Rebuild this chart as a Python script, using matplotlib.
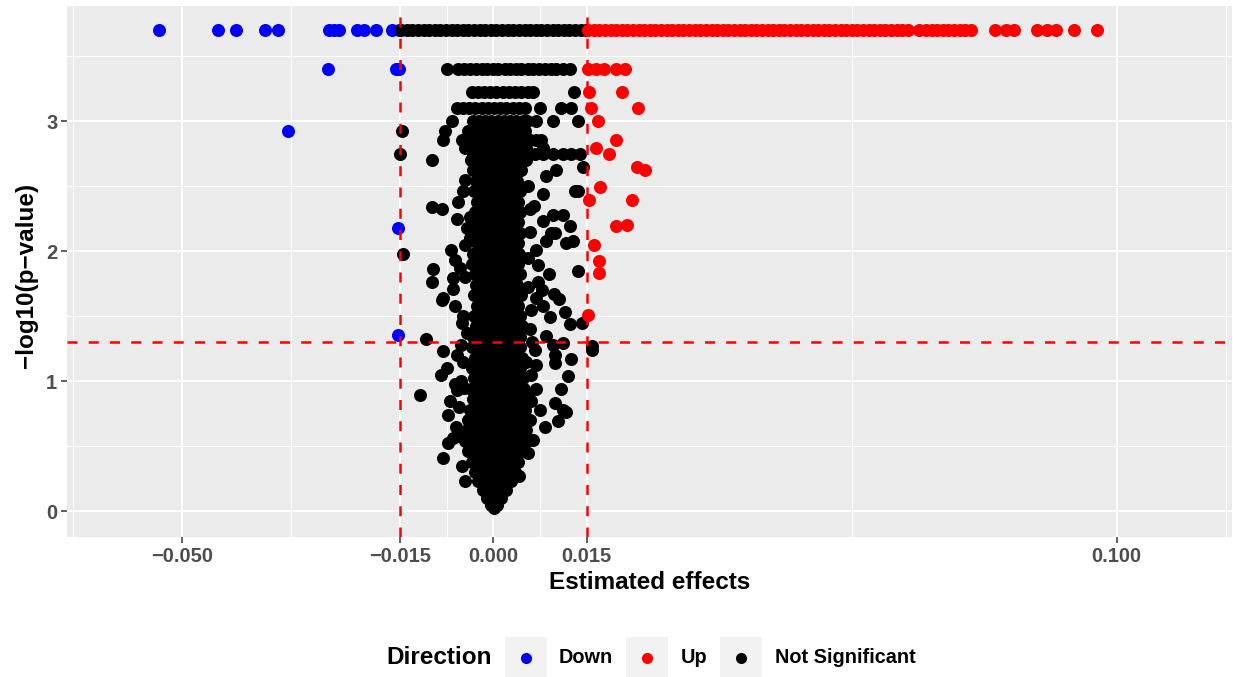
import numpy as np
import matplotlib
matplotlib.use("Agg")
import matplotlib.pyplot as plt
from matplotlib.lines import Line2D
from matplotlib.patches import Rectangle
from matplotlib.ticker import FixedLocator

plt.rcParams['font.family'] = ['Liberation Sans', 'DejaVu Sans']

# cut-offs used for the classification
FC_CUT = 0.015
P_CUT = 0.05

# x breaks shown on the axis
x_breaks = [-0.050, -0.015, 0.000, 0.015, 0.100]
x_labels = ['\u22120.050', '\u22120.015', '0.000', '0.015', '0.100']
y_breaks = [0, 1, 2, 3]

# ---- Down (blue) ----
down_x = [-0.0536, -0.0441, -0.0413, -0.0366, -0.0346, -0.0263, -0.0255, -0.0247,
          -0.0218, -0.0207, -0.0189, -0.0163, -0.0152,
          -0.0265, -0.0156, -0.0151,
          -0.0330, -0.0153, -0.0153]
down_y = [3.699] * 13 + [3.398] * 3 + [2.921, 2.175, 1.354]

# ---- Up (red) ----
up_top_x = [0.0152, 0.0161, 0.0170, 0.0179, 0.0188, 0.0197, 0.0206, 0.0215, 0.0224,
            0.0233, 0.0242, 0.0251, 0.0260, 0.0269, 0.0278, 0.0287, 0.0296, 0.0305,
            0.0314, 0.0323, 0.0332, 0.0341, 0.0350, 0.0359, 0.0368, 0.0377, 0.0386,
            0.0395, 0.0404, 0.0413, 0.0422, 0.0431, 0.0440, 0.0449, 0.0458, 0.0467,
            0.0476, 0.0485, 0.0494, 0.0503, 0.0512, 0.0521, 0.0530, 0.0539, 0.0548,
            0.0557, 0.0566, 0.0575, 0.0584, 0.0593, 0.0602, 0.0611, 0.0620, 0.0629,
            0.0638, 0.0647, 0.0656, 0.0665, 0.0683, 0.0694, 0.0703, 0.0712, 0.0721,
            0.0730, 0.0739, 0.0748, 0.0757, 0.0766,
            0.0804, 0.0822, 0.0836, 0.0872, 0.0889, 0.0902, 0.0932, 0.0968]
up_top_y = 3.699
up_x = [0.0152, 0.0164, 0.0178, 0.0196, 0.0211, 0.0153, 0.0206, 0.0156, 0.0232,
        0.0168, 0.0197, 0.0164, 0.0185, 0.0230, 0.0243, 0.0171, 0.0154, 0.0222,
        0.0197, 0.0214, 0.0161, 0.0169, 0.0170, 0.0152]
up_y = [3.398] * 5 + [3.222, 3.222, 3.097, 3.097, 3.0, 2.854, 2.796, 2.745, 2.65,
                      2.62, 2.49, 2.39, 2.39, 2.19, 2.20, 2.05, 1.925, 1.83, 1.51]

# ---- Not significant (black), rows of equal -log10(p) ----
ns_row_y = [3.699, 3.398, 3.222, 3.097, 3.0, 2.921, 2.854, 2.796, 2.745, 2.699,
            2.62, 2.54, 2.46, 2.38, 2.30, 2.22, 2.14, 2.06, 1.98, 1.90,
            1.82, 1.74, 1.66, 1.58, 1.50, 1.42, 1.34, 1.26, 1.18, 1.10,
            1.02, 0.94, 0.86, 0.78, 0.70, 0.62, 0.54, 0.46, 0.38, 0.30,
            0.23, 0.16, 0.10, 0.05, 0.02]
ns_row_x = [
    [-0.0148, -0.0139, -0.0130, -0.0121, -0.0112, -0.0103, -0.0094, -0.0085, -0.0076,
     -0.0067, -0.0058, -0.0049, -0.0040, -0.0031, -0.0022, -0.0013, -0.0004, 0.0005,
     0.0014, 0.0023, 0.0032, 0.0041, 0.0050, 0.0059, 0.0068, 0.0077, 0.0086, 0.0095,
     0.0104, 0.0113, 0.0122, 0.0131, 0.0140, 0.0148],
    [-0.0075, -0.0056, -0.0047, -0.0038, -0.0028, -0.0019, -0.0010, -0.0001, 0.0008,
     0.0018, 0.0027, 0.0036, 0.0045, 0.0055, 0.0064, 0.0073, 0.0083, 0.0092, 0.0101,
     0.0112, 0.0123],
    [-0.0035, -0.0025, -0.0015, -0.0005, 0.0005, 0.0015, 0.0025, 0.0035, 0.0045,
     0.0055, 0.0064, 0.0129],
    [-0.0059, -0.0049, -0.0039, -0.0029, -0.0019, -0.0009, 0.0001, 0.0011, 0.0021,
     0.0031, 0.0041, 0.0051, 0.0075, 0.0109, 0.0125],
    [-0.0067, -0.0033, -0.0023, -0.0013, -0.0003, 0.0007, 0.0017, 0.0027, 0.0037,
     0.0047, 0.0054, 0.0069, 0.0096, 0.0136],
    [-0.0147, -0.0078, -0.0040, -0.0030, -0.0020, -0.0010, 0.0000, 0.0010, 0.0020,
     0.0030, 0.0040, 0.0050],
    [-0.0081, -0.0051, -0.0040, -0.0029, -0.0018, -0.0007, 0.0004, 0.0015, 0.0026,
     0.0037, 0.0048, 0.0059, 0.0069, 0.0077],
    [-0.0046, -0.0035, -0.0024, -0.0013, -0.0002, 0.0009, 0.0020, 0.0031, 0.0042,
     0.0053, 0.0080],
    [-0.0150, -0.0033, -0.0023, -0.0013, -0.0003, 0.0007, 0.0017, 0.0027, 0.0037,
     0.0047, 0.0057, 0.0067, 0.0080, 0.0096, 0.0112, 0.0125, 0.0139],
    [-0.0098, -0.0036, -0.0025, -0.0014, -0.0003, 0.0008, 0.0019, 0.0030, 0.0041, 0.0052],
    [-0.0032, -0.0021, -0.0010, 0.0001, 0.0012, 0.0023, 0.0034, 0.0044],
    [-0.0028, -0.0017, -0.0006, 0.0005, 0.0016, 0.0027, 0.0038],
    [-0.0031, -0.0020, -0.0009, 0.0002, 0.0013, 0.0024, 0.0035, 0.0042],
    [-0.0027, -0.0016, -0.0005, 0.0006, 0.0017, 0.0028, 0.0039],
    [-0.0030, -0.0019, -0.0008, 0.0003, 0.0014, 0.0025, 0.0036, 0.0043],
    [-0.0026, -0.0015, -0.0004, 0.0007, 0.0018, 0.0029, 0.0040],
    [-0.0030, -0.0019, -0.0008, 0.0003, 0.0014, 0.0025, 0.0036, 0.0042],
    [-0.0027, -0.0016, -0.0005, 0.0006, 0.0017, 0.0028, 0.0039],
    [-0.0033, -0.0022, -0.0011, 0.0000, 0.0011, 0.0022, 0.0033, 0.0041],
    [-0.0035, -0.0024, -0.0013, -0.0002, 0.0009, 0.0020, 0.0031, 0.0040],
    [-0.0030, -0.0019, -0.0008, 0.0003, 0.0014, 0.0025, 0.0036, 0.0043],
    [-0.0028, -0.0017, -0.0006, 0.0005, 0.0016, 0.0027, 0.0038],
    [-0.0031, -0.0020, -0.0009, 0.0002, 0.0013, 0.0024, 0.0035, 0.0045],
    [-0.0027, -0.0016, -0.0005, 0.0006, 0.0017, 0.0028, 0.0039],
    [-0.0031, -0.0020, -0.0009, 0.0002, 0.0013, 0.0024, 0.0035, 0.0043],
    [-0.0028, -0.0017, -0.0006, 0.0005, 0.0016, 0.0027, 0.0038, 0.0046],
    [-0.0033, -0.0022, -0.0011, 0.0000, 0.0011, 0.0022, 0.0033, 0.0042],
    [-0.0035, -0.0024, -0.0013, -0.0002, 0.0009, 0.0020, 0.0031, 0.0042],
    [-0.0030, -0.0019, -0.0008, 0.0003, 0.0014, 0.0025, 0.0036, 0.0046],
    [-0.0035, -0.0024, -0.0013, -0.0002, 0.0009, 0.0020, 0.0031, 0.0042],
    [-0.0031, -0.0020, -0.0009, 0.0002, 0.0013, 0.0024, 0.0035, 0.0047],
    [-0.0036, -0.0025, -0.0014, -0.0003, 0.0008, 0.0019, 0.0030, 0.0041, 0.0049],
    [-0.0032, -0.0021, -0.0010, 0.0001, 0.0012, 0.0023, 0.0034, 0.0045],
    [-0.0038, -0.0027, -0.0016, -0.0005, 0.0006, 0.0017, 0.0028, 0.0039, 0.0050],
    [-0.0041, -0.0031, -0.0020, -0.0009, 0.0002, 0.0013, 0.0024, 0.0035, 0.0046, 0.0052],
    [-0.0043, -0.0035, -0.0024, -0.0013, -0.0002, 0.0009, 0.0020, 0.0031, 0.0042, 0.0052],
    [-0.0045, -0.0034, -0.0023, -0.0012, -0.0001, 0.0010, 0.0021, 0.0032, 0.0043, 0.0054],
    [-0.0040, -0.0029, -0.0018, -0.0007, 0.0004, 0.0015, 0.0026, 0.0037, 0.0045],
    [-0.0035, -0.0024, -0.0013, -0.0002, 0.0009, 0.0020, 0.0031, 0.0040],
    [-0.0030, -0.0019, -0.0008, 0.0003, 0.0014, 0.0025, 0.0035],
    [-0.0024, -0.0013, -0.0002, 0.0009, 0.0020, 0.0028],
    [-0.0017, -0.0007, 0.0003, 0.0013, 0.0021],
    [-0.0010, -0.0001, 0.0007, 0.0013],
    [-0.0004, 0.0001, 0.0006],
    [0.0001],
]

# scattered black points around the central cloud
ns_out_x = [-0.0098, -0.0083, -0.0057, -0.0049, -0.0059, -0.0038, -0.0038, -0.0068,
            -0.0061, -0.0054, -0.0097, -0.0099, -0.0064, -0.0064, -0.0080, -0.0083,
            -0.0062, -0.0043, -0.0108, -0.0080, -0.0075, -0.0084, -0.0117, -0.0059,
            -0.0070, -0.0072, -0.0073, -0.0080, -0.0046, -0.0145,
            -0.0045, -0.0046, -0.0048, -0.0050, -0.0048, -0.0052, -0.0055, -0.0060,
            -0.0055, -0.0065, -0.0050, -0.0045, -0.0042, -0.0052, -0.0058, -0.0047,
            -0.0062,
            0.0080, 0.0101, 0.0084, 0.0144, 0.0131, 0.0136, 0.0065, 0.0096, 0.0112,
            0.0080, 0.0123, 0.0093, 0.0099, 0.0085, 0.0117, 0.0128, 0.0069, 0.0072,
            0.0136, 0.0090, 0.0072, 0.0098, 0.0059, 0.0069, 0.0115, 0.0091, 0.0123,
            0.0143, 0.0158, 0.0158, 0.0096, 0.0112, 0.0099, 0.0125, 0.0099, 0.0067,
            0.0069, 0.0120, 0.0069, 0.0109, 0.0099, 0.0056, 0.0075, 0.0112, 0.0104,
            0.0117, 0.0083, 0.0064, 0.0041,
            0.0080, 0.0060, 0.0058, 0.0062, 0.0060, 0.0058, 0.0055, 0.0055, 0.0058,
            0.0055, 0.0056, 0.0052, 0.0060, 0.0085, 0.0078, 0.0105]
ns_out_y = [2.34, 2.32, 2.38, 2.46, 2.25, 2.26, 2.10, 2.01,
            1.93, 1.87, 1.86, 1.76, 1.79, 1.71, 1.64, 1.62,
            1.58, 1.37, 1.32, 1.23, 1.10, 1.05, 0.89, 0.93,
            0.85, 0.74, 0.52, 0.41, 0.23, 1.98,
            2.55, 2.05, 1.50, 1.45, 1.15, 1.00, 0.80, 0.65,
            0.58, 0.56, 0.35, 1.80, 2.18, 1.28, 1.20, 0.95,
            0.98,
            2.44, 2.62, 2.58, 2.65, 2.46, 2.46, 2.35, 2.28, 2.28,
            2.23, 2.19, 2.14, 2.14, 2.08, 2.06, 2.08, 2.01, 1.89,
            1.85, 1.82, 1.76, 1.67, 2.32, 1.64, 1.53, 1.49, 1.44,
            1.45, 1.27, 1.24, 1.28, 1.29, 1.20, 1.17, 1.14, 1.24,
            1.12, 1.04, 0.94, 0.94, 0.83, 0.89, 0.78, 0.78, 0.69,
            0.76, 0.65, 0.55, 0.27,
            1.58, 1.55, 1.40, 1.30, 1.05, 0.70, 0.45, 2.50, 2.15,
            1.95, 1.72, 1.15, 0.85, 1.35, 1.70, 1.63]

ns_x = [x for row in ns_row_x for x in row] + ns_out_x
ns_y = [y for y, row in zip(ns_row_y, ns_row_x) for _ in row] + ns_out_y
up_all_x = up_top_x + up_x
up_all_y = [up_top_y] * len(up_top_x) + up_y

# ---- figure ----
W, H = 1233, 677
fig = plt.figure(figsize=(W / 100, H / 100), dpi=100)
ax = fig.add_axes([67 / W, 140 / H, 1165 / W, 531 / H])
ax.set_facecolor('#EBEBEB')
for s in ax.spines.values():
    s.set_visible(False)

PT = 88
ax.scatter(down_x, down_y, s=PT, c='#0000FF', linewidths=0, zorder=2)
ax.scatter(ns_x, ns_y, s=PT, c='black', linewidths=0, zorder=2)
ax.scatter(up_all_x, up_all_y, s=PT, c='#FF0000', linewidths=0, zorder=2)

dash = dict(color='#FF0000', lw=1.8, ls=(0, (4, 4.5)), zorder=3)
ax.axvline(-FC_CUT, **dash)
ax.axvline(FC_CUT, **dash)
ax.axhline(-np.log10(P_CUT), **dash)

ax.set_xlim(-0.0684, 0.1185)
ax.set_ylim(-0.2, 3.885)

# ggplot style minor breaks (midpoints, extended by one step at the ends)
def minor_breaks(b, lim):
    b = list(b)
    step = b[1] - b[0]
    b = [b[0] - step] + b + [b[-1] + step]
    mids = [(b[i] + b[i + 1]) / 2 for i in range(len(b) - 1)]
    return [m for m in mids if lim[0] <= m <= lim[1]]

ax.set_xticks(x_breaks)
ax.set_xticklabels(x_labels)
ax.set_yticks(y_breaks)
ax.xaxis.set_minor_locator(FixedLocator(minor_breaks(x_breaks, ax.get_xlim())))
ax.yaxis.set_minor_locator(FixedLocator(minor_breaks(y_breaks, ax.get_ylim())))
ax.set_axisbelow(True)
ax.grid(which='major', color='white', lw=1.4)
ax.grid(which='minor', color='white', lw=0.7)
ax.tick_params(which='major', length=4, width=1.1, color='#333333',
               labelsize=14.5, labelcolor='#4D4D4D', pad=3)
ax.tick_params(which='minor', length=0)
for lab in ax.get_xticklabels() + ax.get_yticklabels():
    lab.set_fontweight('bold')

ax.set_xlabel('Estimated effects', fontsize=17.5, fontweight='bold')
ax.xaxis.set_label_coords(0.5, -0.086)
ax.xaxis.label.set_va('center')
ax.set_ylabel('\u2212log10(p\u2212value)', fontsize=17.5, fontweight='bold')
ax.yaxis.set_label_coords(-0.035, 0.4934)
ax.yaxis.label.set_va('center')

# ---- legend ----
leg_names = ['Down', 'Up', 'Not Significant']
leg_cols = ['#0000FF', '#FF0000', 'black']
key_left = [505, 626, 720]
text_left = [559, 681, 775]
yc = 1 - 657.5 / H
fig.text(386 / W, yc, 'Direction', fontsize=17.5, fontweight='bold',
         ha='left', va='center')
for name, col, kl, tl in zip(leg_names, leg_cols, key_left, text_left):
    fig.add_artist(Rectangle((kl / W, yc - 20.5 / H), 42 / W, 41 / H,
                             transform=fig.transFigure, color='#F2F2F2', lw=0))
    fig.add_artist(Line2D([(kl + 21) / W], [yc], transform=fig.transFigure,
                          marker='o', ms=8, color=col, mew=0, ls='none'))
    fig.text(tl / W, yc, name, fontsize=14.3, fontweight='bold',
             ha='left', va='center')

fig.savefig('out.png', dpi=100, facecolor='white')
